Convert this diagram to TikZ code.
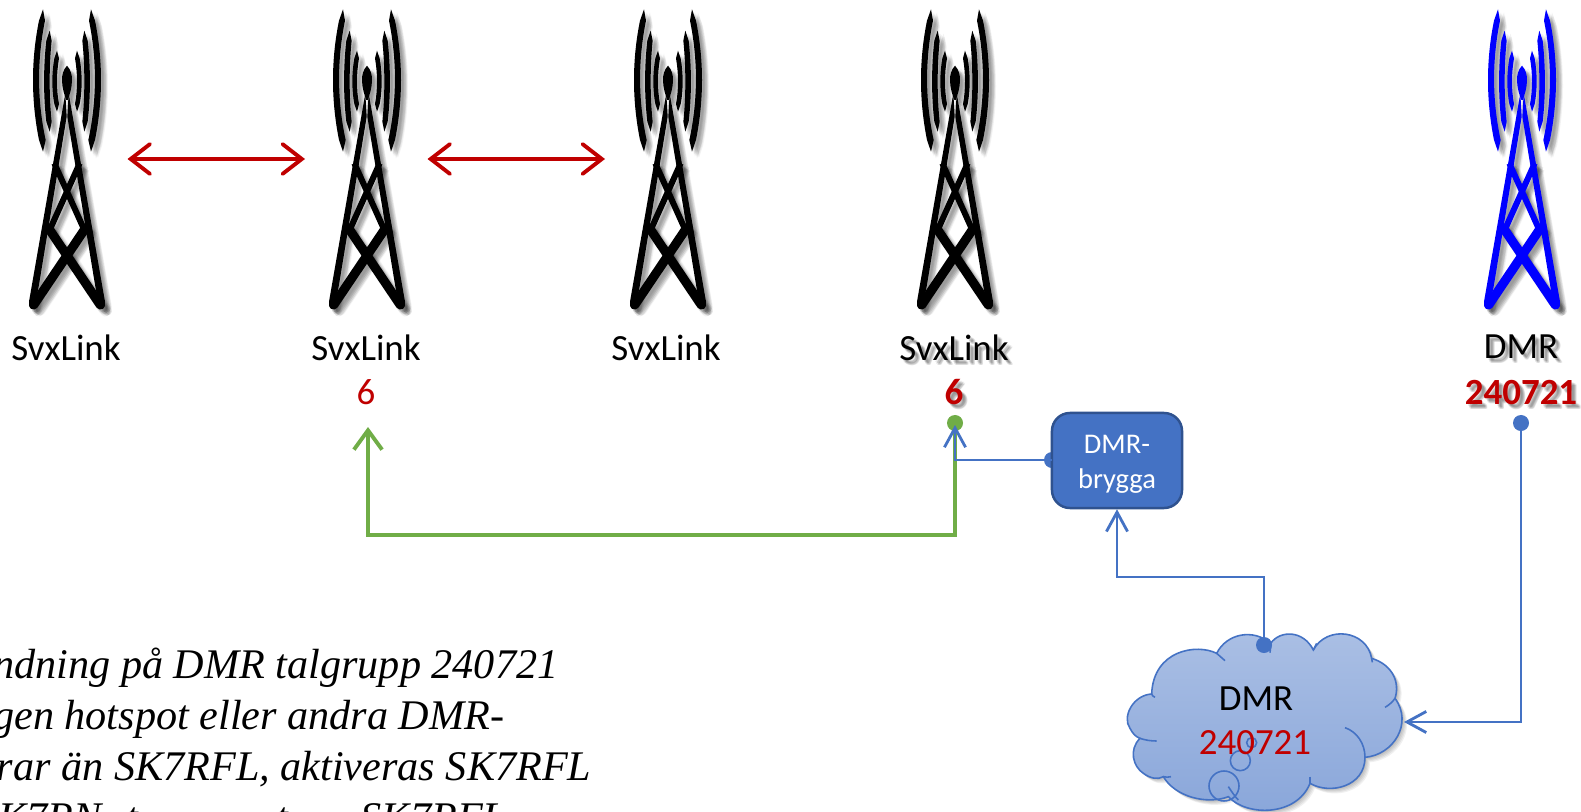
\documentclass[tikz,border=0pt]{standalone}
\usepackage{fontspec}
\usetikzlibrary{arrows.meta}
\newfontfamily\calfont{Carlito}
\newfontfamily\timesfont{Liberation Serif}
\definecolor{cred}{HTML}{C00000}
\definecolor{cgreen}{HTML}{70AD47}
\definecolor{cblue}{HTML}{4472C4}
\definecolor{cbluedark}{HTML}{2F528F}
\definecolor{pureblue}{HTML}{0000FF}
\newcommand\cloudpath{(155,282) .. controls (100,285) and (65,350) .. (90,385) .. controls (97,398) and (105,410) .. (120,415)
 .. controls (85,450) and (100,500) .. (130,520) .. controls (150,535) and (175,540) .. (190,530)
 .. controls (225,590) and (320,615) .. (385,590) .. controls (440,650) and (590,650) .. (630,550)
 .. controls (690,585) and (795,560) .. (795,472) .. controls (880,465) and (940,370) .. (885,295)
 .. controls (900,250) and (880,195) .. (815,175) .. controls (800,90) and (680,75) .. (640,150)
 .. controls (610,90) and (540,90) .. (512,130) .. controls (460,85) and (380,100) .. (350,160)
 .. controls (290,130) and (160,150) .. (155,282) -- cycle}
\tikzset{
  x=0.01cm,y=-0.01cm,
  calib/.style={font=\calfont\fontsize{10.5pt}{12pt}\selectfont,inner sep=0pt,anchor=base},
  calibbold/.style={font=\calfont\bfseries\fontsize{10.5pt}{12pt}\selectfont,inner sep=0pt,anchor=base},
  italline/.style={font=\timesfont\itshape\fontsize{12pt}{14pt}\selectfont,inner sep=0pt,anchor=base east},
  redarrow/.style={draw=cred,line width=1.1pt,{Straight Barb[length=5.5pt,width=8.5pt,line cap=round]}-{Straight Barb[length=5.5pt,width=8.5pt,line cap=round]}},
  greenline/.style={draw=cgreen,line width=1.1pt},
  blueline/.style={draw=cblue,line width=0.8pt},
  bluetip/.style={-{Straight Barb[length=5.5pt,width=6pt]}},
  greentip/.style={-{Straight Barb[length=5.5pt,width=8pt]}},
  dotnode/.style={circle,inner sep=0pt,minimum size=0.16cm,fill=#1},
  bridgebox/.style={draw=cbluedark,line width=0.7pt,fill=cblue,rounded corners=0.18cm,minimum width=1.3cm,minimum height=0.95cm,inner sep=0pt},
  bridgetext/.style={text=white,align=center,inner sep=0pt,font=\calfont\fontsize{8.1pt}{10pt}\selectfont},
  cloudline/.style={draw=cblue,line width=0.45pt},
  pics/tower/.style={code={
    \begin{scope}[scale=1/3]
      \foreach \s in {1,-1}{
        \begin{scope}[xscale=\s]
          \fill[#1] (-72,28) -- (-84,62) .. controls (-108,180) and (-108,300) .. (-84,420) -- (-72,455) -- (-64,420) .. controls (-90,300) and (-90,180) .. (-66,62) -- cycle;
          \fill[#1] (-52,92) -- (-62,122) .. controls (-71,200) and (-71,290) .. (-62,365) -- (-52,395) -- (-46,365) .. controls (-54,290) and (-54,200) .. (-46,122) -- cycle;
          \fill[#1] (-30,152) -- (-38,175) .. controls (-46,220) and (-46,270) .. (-38,312) -- (-30,335) -- (-24,312) .. controls (-32,270) and (-32,220) .. (-24,175) -- cycle;
          \fill[#1] (-5,280) -- (-114,905) .. controls (-116,920) and (-108,935) .. (-98,922) -- (-85,860) -- (-1,350) -- cycle;
          \draw[#1,line width=2.6pt,line cap=round] (-100,915) -- (55,685);
          \draw[#1,line width=1.7pt] (-52,690) -- (38,490);
        \end{scope}
      }
      \fill[#1] (0,197) .. controls (12,210) and (15,225) .. (15,240) .. controls (15,262) and (8,285) .. (2,300) -- (-2,300) .. controls (-8,285) and (-15,262) .. (-15,240) .. controls (-15,225) and (-12,210) .. (0,197) -- cycle;
    \end{scope}
  }}
}
\begin{document}
\begin{tikzpicture}
\useasboundingbox (0,0) rectangle (1581,812);
\fill[white] (0,0) rectangle (1581,812);
% towers with soft shadows
\foreach \tx/\tc in {67/black,367/black,668/black,955/black,1522/pureblue}{
  \foreach \d/\e in {2/3,3/3,4/4,5/5,6/6,7/6,5/7,3/5,6/3}{
    \pic[opacity=0.05] at (\tx+\d,\e) {tower=black};
  }
  \pic at (\tx,0) {tower=\tc};
}
% red arrows
\coordinate (ra1) at (127.5,159); \coordinate (ra2) at (305,159);
\coordinate (rb1) at (427.5,159); \coordinate (rb2) at (605,159);
\draw[redarrow] (ra1) -- (ra2);
\draw[redarrow] (rb1) -- (rb2);
% labels
\node[calib] (l1) at (66,360) {SvxLink};
\node[calib] (l2) at (366,360) {SvxLink};
\node[calib] (l3) at (666,360) {SvxLink};
\foreach \d/\e in {2/2,3/3,4/3,3/4,5/4,4/5,5/5}{
  \node[calib,text=black,opacity=0.07] (sa\d\e) at (954+\d,360+\e) {SvxLink};
  \node[calibbold,text=black,opacity=0.07] (sb\d\e) at (954+\d,404+\e) {6};
  \node[calib,text=black,opacity=0.07] (sc\d\e) at (1521+\d,358+\e) {DMR};
  \node[calibbold,text=black,opacity=0.07] (sd\d\e) at (1521+\d,404+\e) {240721};
}
\node[calib] (l4) at (954,360) {SvxLink};
\node[calib,text=cred] (n1) at (366,404.5) {6};
\node[calibbold,text=cred] (n2) at (954,404) {6};
\node[calib] (l5) at (1521,358) {DMR};
\node[calibbold,text=cred] (n3) at (1521,404) {240721};
% cloud
\begin{scope}[shift={(1100,600)},scale=1/3]
  \foreach \d in {3,6,9,12,15}{
    \fill[black,opacity=0.06] [shift={(\d,\d)}] \cloudpath;
  }
  \shade[top color=cblue!45!white,bottom color=cblue!63!white,draw=cblue,line width=0.45pt] \cloudpath;
  \draw[cloudline] (155,282) .. controls (155,285) and (160,290) .. (165,292);
  \draw[cloudline] (120,415) .. controls (135,420) and (150,423) .. (170,423);
  \draw[cloudline] (190,530) .. controls (198,532) and (205,532) .. (213,530);
  \draw[cloudline] (385,560) .. controls (395,575) and (405,590) .. (415,600);
  \draw[cloudline] (630,530) -- (630,552);
  \draw[cloudline] (735,383) .. controls (770,395) and (795,430) .. (795,472);
  \draw[cloudline] (855,322) .. controls (868,315) and (878,305) .. (885,295);
  \draw[cloudline] (815,175) -- (817,187);
  \draw[cloudline] (640,150) -- (650,130);
  \draw[cloudline] (510,158) -- (513,130);
  \draw[cloudline] (350,160) -- (375,182);
  \draw[cloudline] (372,558) circle (45);
  \draw[cloudline] (421,482) circle (30);
  \draw[cloudline] (455,428) circle (15);
\end{scope}
\node[calib] (cl1) at (1256,710) {DMR};
\node[calib,text=cred] (cl2) at (1255,754) {240721};
% dots and bridge box
\node[dotnode=cgreen] (gdot) at (955,423) {};
\node[dotnode=cblue] (bdot) at (1052,460) {};
\node[dotnode=cblue] (cdot) at (1264,645) {};
\node[dotnode=cblue] (ddot) at (1521,423) {};
\node[bridgebox] (box) at (1117,460.5) {};
\node[bridgetext] (boxtext) at (1117,464.5) {DMR-\\brygga};
% connectors
\coordinate (gtip) at (368,427);
\coordinate (btip) at (955,425);
\coordinate (ctip) at (1404,722);
\draw[greenline,greentip] (gdot.center) -- ++(0,112) -| (gtip);
\draw[blueline,bluetip] (bdot.center) -| (btip);
\draw[blueline,bluetip] (cdot.center) -- ++(0,-68) -| (box.south);
\draw[blueline,bluetip] (ddot.center) |- (ctip);
% italic text
\node[italline] (t1) at (559,678) {ndning på DMR talgrupp 240721};
\node[italline] (t2) at (505,729) {gen hotspot eller andra DMR-};
\node[italline] (t3) at (592,780) {rar än SK7RFL, aktiveras SK7RFL};
\node[italline] (t4) at (507,831) {K7RN\hspace{0.25cm}t\hspace{1.38cm}t\hspace{0.73cm}SK7RFL};
\end{tikzpicture}
\end{document}
